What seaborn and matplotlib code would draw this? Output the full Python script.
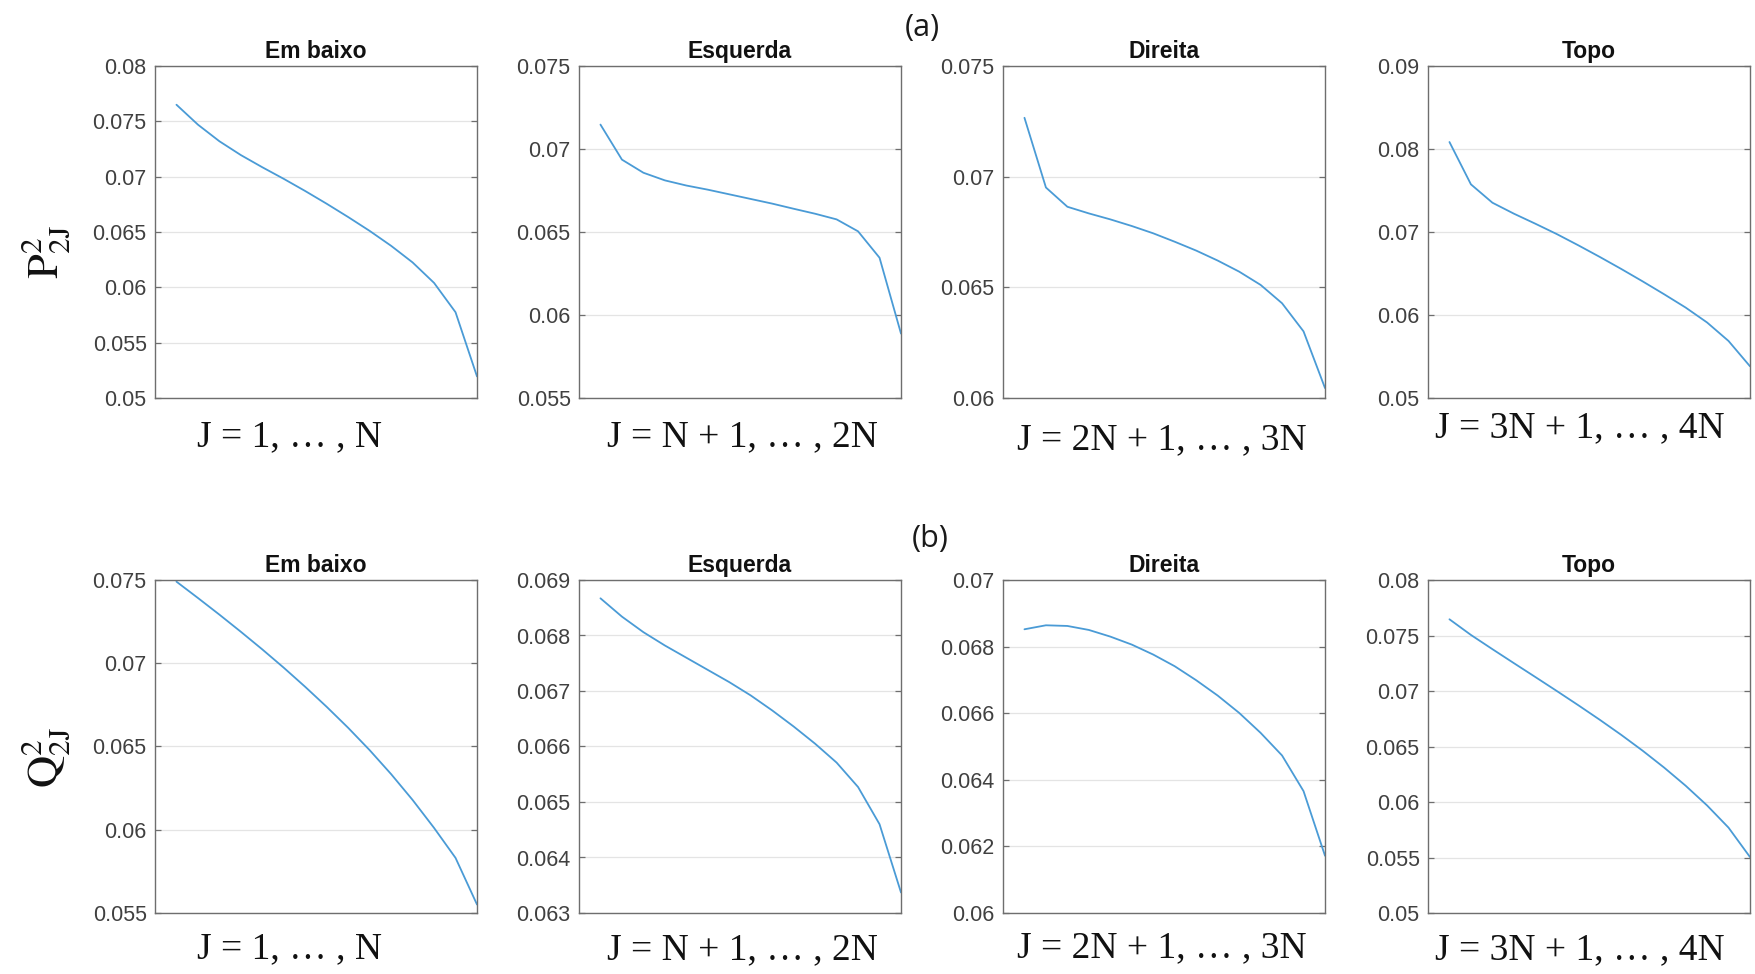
import numpy as np
import pandas as pd
import matplotlib
matplotlib.use("Agg")
import matplotlib.pyplot as plt
import seaborn as sns
from matplotlib.ticker import FixedLocator, FixedFormatter

# ---------------- data ----------------
J = list(range(1, 16))  # N = 15 points per side

sides = ["Em baixo", "Esquerda", "Direita", "Topo"]
xlabels = ["J = 1, … , N", "J = N + 1, … , 2N", "J = 2N + 1, … , 3N", "J = 3N + 1, … , 4N"]
row_labels = [r"$\mathrm{P}_{2\mathrm{J}}^{2}$", r"$\mathrm{Q}_{2\mathrm{J}}^{2}$"]
panel_tags = ["(a)", "(b)"]

# (a) P^2_{2J}
p_em_baixo = [0.0765, 0.0747, 0.0732, 0.07195, 0.07085, 0.0698, 0.0687, 0.06755,
              0.06635, 0.0651, 0.06375, 0.06225, 0.0604, 0.05775, 0.05195]
p_esquerda = [0.07147, 0.06936, 0.06857, 0.06811, 0.0678, 0.06755, 0.06727, 0.06699,
              0.06671, 0.0664, 0.0661, 0.06576, 0.06504, 0.06345, 0.05888]
p_direita = [0.07266, 0.06951, 0.06864, 0.06834, 0.06807, 0.06777, 0.06744, 0.06706,
             0.06666, 0.06621, 0.06571, 0.06511, 0.06428, 0.06301, 0.06045]
p_topo = [0.08084, 0.07574, 0.07353, 0.07221, 0.0710, 0.06975, 0.0684, 0.0670,
          0.06555, 0.06405, 0.0625, 0.0609, 0.0591, 0.05687, 0.05382]

# (b) Q^2_{2J}
q_em_baixo = [0.0749, 0.07392, 0.07292, 0.07189, 0.07083, 0.06973, 0.06858, 0.06738,
              0.06612, 0.06478, 0.06334, 0.06179, 0.06011, 0.05831, 0.05551]
q_esquerda = [0.06867, 0.06834, 0.06806, 0.06782, 0.0676, 0.06738, 0.06716, 0.06692,
              0.06665, 0.06636, 0.06605, 0.06571, 0.06527, 0.0646, 0.06337]
q_direita = [0.06852, 0.06864, 0.06862, 0.0685, 0.0683, 0.06806, 0.06776, 0.06741,
             0.06699, 0.06653, 0.06601, 0.06541, 0.06473, 0.06366, 0.06172]
q_topo = [0.07646, 0.07505, 0.07377, 0.07251, 0.07126, 0.0700, 0.06872, 0.06741,
          0.06605, 0.06462, 0.0631, 0.06147, 0.05969, 0.05769, 0.05504]

# y-axis ranges and tick values per panel
p_ylims = [(0.05, 0.08), (0.055, 0.075), (0.06, 0.075), (0.05, 0.09)]
p_yticks = [[0.05, 0.055, 0.06, 0.065, 0.07, 0.075, 0.08],
            [0.055, 0.06, 0.065, 0.07, 0.075],
            [0.06, 0.065, 0.07, 0.075],
            [0.05, 0.06, 0.07, 0.08, 0.09]]
q_ylims = [(0.055, 0.075), (0.063, 0.069), (0.06, 0.07), (0.05, 0.08)]
q_yticks = [[0.055, 0.06, 0.065, 0.07, 0.075],
            [0.063, 0.064, 0.065, 0.066, 0.067, 0.068, 0.069],
            [0.06, 0.062, 0.064, 0.066, 0.068, 0.07],
            [0.05, 0.055, 0.06, 0.065, 0.07, 0.075, 0.08]]

rows = [
    dict(series=[p_em_baixo, p_esquerda, p_direita, p_topo], ylims=p_ylims, yticks=p_yticks),
    dict(series=[q_em_baixo, q_esquerda, q_direita, q_topo], ylims=q_ylims, yticks=q_yticks),
]

# ---------------- style ----------------
sns.set_theme(style="white")
plt.rcParams["font.family"] = ["Liberation Sans", "DejaVu Sans"]
plt.rcParams["mathtext.fontset"] = "stix"

LINE = "#4A9BD6"
SPINE = "#6E6E6E"
TICKC = "#404040"

fig = plt.figure(figsize=(17.56, 9.74), dpi=100)
W, H = 1756.0, 974.0

col_left = [155, 579, 1003, 1428]
ax_w = 322
row_top = [66, 580]
ax_h = [332, 333]
xlabel_x = [290, 742, 1162, 1580]
xlabel_y = [[437, 437, 440, 428], [949, 950, 948, 950]]
ylabel_pos = [(46, 252), (46, 757)]
tag_pos = [(922, 28), (930, 539)]

for r, row in enumerate(rows):
    for c in range(4):
        left = col_left[c] / W
        bottom = 1 - (row_top[r] + ax_h[r]) / H
        ax = fig.add_axes([left, bottom, ax_w / W, ax_h[r] / H])
        df = pd.DataFrame({"J": J, "v": row["series"][c]})
        sns.lineplot(data=df, x="J", y="v", ax=ax, color=LINE, linewidth=1.3)
        ax.set_xlim(0, len(J))
        ax.set_ylim(*row["ylims"][c])
        ticks = row["yticks"][c]
        ax.yaxis.set_major_locator(FixedLocator(ticks))
        ax.yaxis.set_major_formatter(FixedFormatter([f"{round(t, 4):g}" for t in ticks]))
        ax.set_xticks([])
        ax.tick_params(axis="y", which="both", direction="in", length=4, width=0.9,
                       colors=SPINE, labelcolor=TICKC, labelsize=15.5, pad=6,
                       left=True, right=True)
        ax.grid(axis="y", color="#E4E4E4", linewidth=0.9)
        ax.set_axisbelow(True)
        for sp in ax.spines.values():
            sp.set_visible(True)
            sp.set_color(SPINE)
            sp.set_linewidth(1.0)
        ax.set_ylabel("")
        ax.set_xlabel("")
        ax.set_title(sides[c], fontsize=16.5, fontweight="bold", color="#111111", pad=6)
        fig.text(xlabel_x[c] / W, 1 - xlabel_y[r][c] / H, xlabels[c],
                 ha="center", va="center", fontsize=27, color="#111111",
                 family=["Liberation Serif", "DejaVu Serif"])
    fig.text(ylabel_pos[r][0] / W, 1 - ylabel_pos[r][1] / H, row_labels[r],
             rotation=90, ha="center", va="center", fontsize=32, color="#111111")
    fig.text(tag_pos[r][0] / W, 1 - tag_pos[r][1] / H, panel_tags[r],
             ha="center", va="center", fontsize=22, color="#1a1a1a",
             family=["Open Sans", "DejaVu Sans"])

fig.savefig("out.png", dpi=100, facecolor="white")
